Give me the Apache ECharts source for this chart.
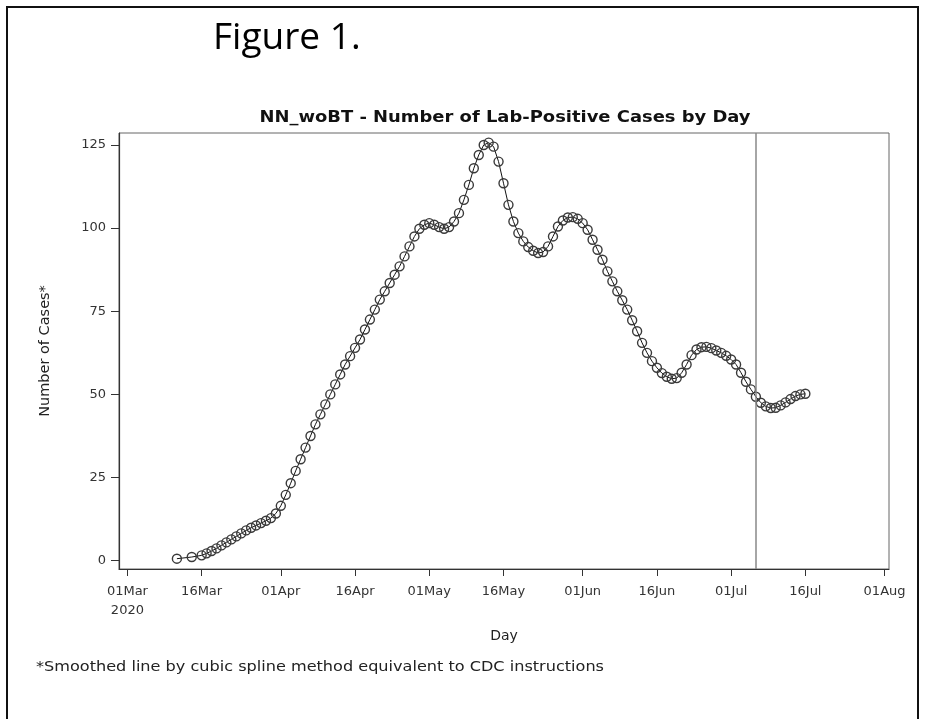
<!DOCTYPE html>
<html>
<head>
<meta charset="utf-8">
<script src="https://cdn.jsdelivr.net/npm/echarts@6/dist/echarts.min.js"></script>
<style>
  html, body { margin: 0; padding: 0; background: #fff; }
  #frame { position: absolute; left: 6px; top: 6px; width: 913px; height: 720px; border: 2px solid #111; box-sizing: border-box; }
  #chart { position: absolute; left: 0; top: 0; width: 932px; height: 719px; }
</style>
</head>
<body>
<div id="frame"></div>
<div id="chart"></div>
<script>
// days counted from 01Mar2020
const days = [10, 13, 15, 16, 17, 18, 19, 20, 21, 22, 23, 24, 25, 26, 27, 28, 29, 30,
  31, 32, 33, 34, 35, 36, 37, 38, 39, 40, 41, 42, 43, 44, 45, 46, 47, 48, 49, 50,
  51, 52, 53, 54, 55, 56, 57, 58, 59, 60, 61, 62, 63, 64, 65, 66, 67, 68, 69, 70,
  71, 72, 73, 74, 75, 76, 77, 78, 79, 80, 81, 82, 83, 84, 85, 86, 87, 88, 89, 90,
  91, 92, 93, 94, 95, 96, 97, 98, 99, 100, 101, 102, 103, 104, 105, 106, 107, 108, 109, 110,
  111, 112, 113, 114, 115, 116, 117, 118, 119, 120, 121, 122, 123, 124, 125, 126, 127, 128, 129, 130,
  131, 132, 133, 134, 135, 136, 137]
const cases = [0.6, 1.1, 1.6, 2.2, 2.9, 3.7, 4.6, 5.5, 6.4, 7.3, 8.2, 9.1, 9.9, 10.6, 11.3, 12.0, 12.8, 14.2,
  16.5, 19.8, 23.3, 27.0, 30.5, 34.0, 37.5, 41.0, 44.0, 47.0, 50.0, 53.0, 56.0, 59.0, 61.5, 64.0, 66.5, 69.5, 72.5, 75.5,
  78.5, 81.0, 83.5, 86.0, 88.5, 91.5, 94.5, 97.5, 99.8, 101.0, 101.5, 101.0, 100.3, 99.8, 100.3, 102.0, 104.5, 108.5, 113.0, 118.0,
  122.0, 125.0, 125.7, 124.5, 120.0, 113.5, 107.0, 102.0, 98.5, 96.0, 94.3, 93.2, 92.5, 92.8, 94.5, 97.5, 100.5, 102.3, 103.2, 103.3,
  102.8, 101.5, 99.5, 96.5, 93.5, 90.5, 87.0, 84.0, 81.0, 78.3, 75.5, 72.3, 69.0, 65.5, 62.5, 60.0, 58.0, 56.4, 55.3, 54.7,
  54.9, 56.5, 59.0, 61.8, 63.5, 64.2, 64.3, 63.9, 63.2, 62.5, 61.6, 60.5, 59.0, 56.5, 53.8, 51.5, 49.3, 47.5, 46.4, 45.9,
  46.0, 46.7, 47.6, 48.6, 49.5, 50.0, 50.2]

const tickDays = [0, 15, 31, 46, 61, 76, 92, 107, 122, 137, 153]
const tickLabels = ['01Mar\n2020', '16Mar', '01Apr', '16Apr', '01May', '16May', '01Jun', '16Jun', '01Jul', '16Jul', '01Aug']
const yTicks = [0, 25, 50, 75, 100, 125]
const refDay = 127

const chart = echarts.init(document.getElementById('chart'))
const font = '"DejaVu Sans", "Liberation Sans", sans-serif'

const option = {
  animation: false,
  backgroundColor: 'transparent',
  graphic: [
    {
      type: 'text', left: 213, top: 20,
      style: { text: 'Figure 1.', font: '37px "Open Sans", sans-serif', fill: '#000' }
    },
    {
      // plot title, widened a bit to the reference's letter width
      type: 'text', x: 505, y: 110, scaleX: 1.12,
      style: { text: 'NN_woBT - Number of Lab-Positive Cases by Day', textAlign: 'center', font: 'bold 16px ' + font, fill: '#111' }
    },
    {
      type: 'text', x: 36, y: 660, scaleX: 1.15,
      style: { text: '*Smoothed line by cubic spline method equivalent to CDC instructions', font: '14px ' + font, fill: '#222' }
    }
  ],
  grid: {
    left: 119, top: 133, width: 770, height: 436,
    show: true, borderColor: '#666', borderWidth: 1
  },
  xAxis: {
    type: 'value',
    min: -1.7,
    max: 153.9,
    name: 'Day',
    nameLocation: 'middle',
    nameGap: 60,
    nameTextStyle: { fontFamily: font, fontSize: 14, color: '#222' },
    splitLine: { show: false },
    axisLine: { onZero: false, lineStyle: { color: '#333', width: 1.2 } },
    axisTick: { customValues: tickDays, length: 7, lineStyle: { color: '#333' } },
    axisLabel: {
      customValues: tickDays,
      margin: 13,
      fontFamily: font,
      fontSize: 13,
      color: '#333',
      lineHeight: 19,
      formatter: v => tickLabels[tickDays.indexOf(v)]
    }
  },
  yAxis: {
    type: 'value',
    min: -2.5,
    max: 128.6,
    name: 'Number of Cases*',
    nameLocation: 'middle',
    nameGap: 66,
    nameTextStyle: { fontFamily: font, fontSize: 14.5, color: '#222' },
    splitLine: { show: false },
    axisLine: { show: true, onZero: false, lineStyle: { color: '#333', width: 1.2 } },
    axisTick: { show: true, customValues: yTicks, length: 8, lineStyle: { color: '#333' } },
    axisLabel: {
      customValues: yTicks,
      margin: 13,
      fontFamily: font,
      fontSize: 13,
      color: '#333'
    }
  },
  series: [{
    type: 'line',
    data: days.map((d, i) => [d, cases[i]]),
    symbol: 'circle',
    symbolSize: 9,
    showAllSymbol: true,
    lineStyle: { color: '#111', width: 1 },
    itemStyle: { color: 'rgba(255,255,255,0)', borderColor: '#3a3a3a', borderWidth: 1.4 },
    markLine: {
      silent: true,
      symbol: 'none',
      label: { show: false },
      lineStyle: { color: '#888', type: 'solid', width: 1.5 },
      data: [{ xAxis: refDay }]
    }
  }]
}

chart.setOption(option)
</script>
</body>
</html>
